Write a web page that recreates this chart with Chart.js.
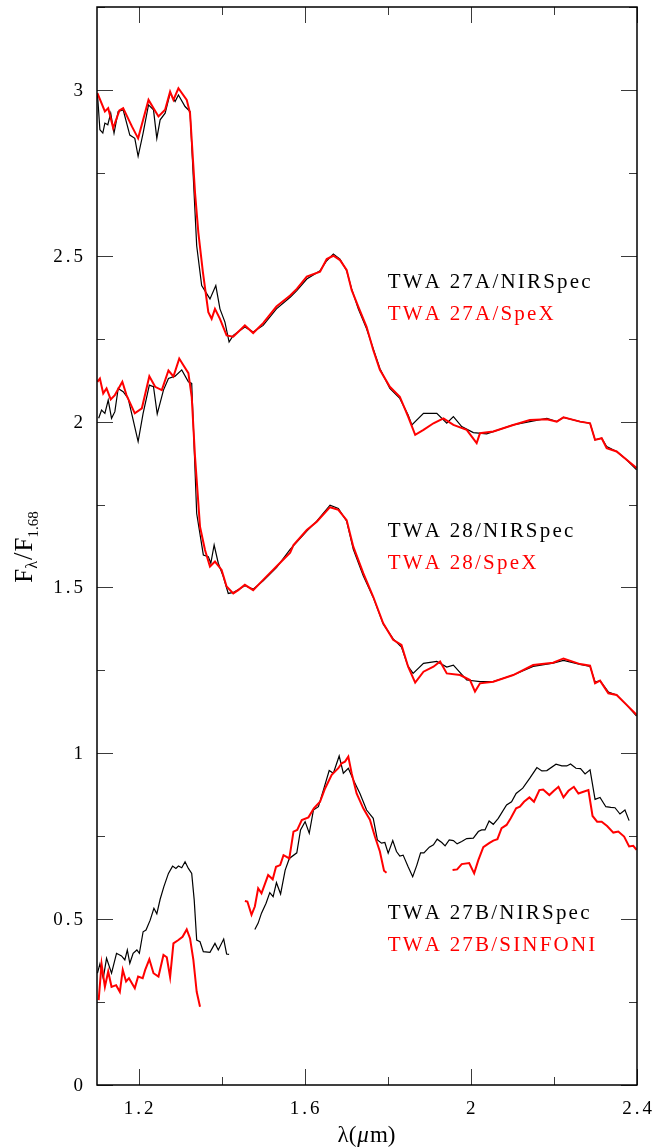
<!DOCTYPE html>
<html>
<head>
<meta charset="utf-8">
<script src="https://cdn.jsdelivr.net/npm/chart.js@4.4.0/dist/chart.umd.min.js"></script>
<style>
  html, body { margin: 0; padding: 0; background: #fff; }
  #wrap { width: 671px; height: 1148px; }
</style>
</head>
<body>
<div id="wrap"><canvas id="spectra"></canvas></div>
<script>
// wavelengths (micron) and normalised fluxes
// TWA 27A
const lam27aNirspec = [1.101,1.107,1.114,1.119,1.126,1.133,1.141,1.151,1.163,1.179,1.191,1.199,1.211,1.224,1.236,1.244,1.252,1.264,1.276,1.288,1.296,1.312,1.324,1.340,1.352,1.372,1.386,1.396,1.408,1.418,1.428,1.456,1.476,1.500,1.532,1.565,1.581,1.605,1.637,1.653,1.669,1.685,1.701,1.713,1.729,1.749,1.765,1.781,1.805,1.829,1.849,1.858,1.886,1.918,1.942,1.958,1.978,2.006,2.038,2.054,2.102,2.142,2.183,2.207,2.223,2.263,2.287,2.299,2.315,2.327,2.351,2.375,2.399];
const flux27aNirspec = [2.99,2.88,2.87,2.90,2.895,2.93,2.87,2.935,2.94,2.864,2.854,2.80,2.87,2.955,2.94,2.854,2.91,2.93,2.99,2.965,2.985,2.95,2.935,2.53,2.41,2.37,2.41,2.34,2.30,2.24,2.26,2.285,2.27,2.29,2.34,2.375,2.395,2.43,2.455,2.485,2.505,2.49,2.455,2.40,2.34,2.28,2.22,2.16,2.10,2.07,2.02,1.99,2.025,2.025,1.995,2.015,1.985,1.967,1.963,1.97,1.99,2.0,2.01,2.0,2.013,2.0,1.995,1.945,1.95,1.925,1.91,1.885,1.855];
const lam27aSpex = [1.101,1.119,1.127,1.139,1.154,1.163,1.184,1.199,1.224,1.248,1.264,1.276,1.284,1.296,1.316,1.324,1.336,1.344,1.355,1.368,1.376,1.384,1.396,1.412,1.428,1.456,1.476,1.500,1.532,1.565,1.581,1.605,1.637,1.653,1.669,1.685,1.701,1.713,1.729,1.749,1.765,1.781,1.805,1.829,1.849,1.866,1.886,1.910,1.934,1.958,1.990,2.014,2.022,2.054,2.102,2.142,2.183,2.207,2.223,2.263,2.287,2.299,2.315,2.327,2.351,2.375,2.399];
const flux27aSpex = [2.99,2.935,2.945,2.885,2.938,2.945,2.89,2.854,2.97,2.92,2.94,2.995,2.97,3.005,2.97,2.93,2.69,2.57,2.45,2.33,2.31,2.34,2.31,2.26,2.256,2.29,2.267,2.297,2.347,2.38,2.40,2.437,2.452,2.49,2.50,2.487,2.457,2.397,2.347,2.286,2.216,2.156,2.105,2.075,2.015,1.96,1.975,1.995,2.01,1.99,1.975,1.935,1.965,1.97,1.99,2.005,2.007,2.0,2.013,2.0,1.995,1.945,1.95,1.92,1.91,1.885,1.86];

// TWA 28
const lam28Nirspec = [1.104,1.111,1.119,1.127,1.135,1.143,1.151,1.163,1.175,1.187,1.199,1.211,1.226,1.236,1.245,1.260,1.272,1.288,1.304,1.320,1.328,1.340,1.356,1.368,1.374,1.382,1.392,1.404,1.416,1.428,1.456,1.476,1.500,1.532,1.565,1.605,1.629,1.661,1.681,1.701,1.717,1.741,1.765,1.789,1.813,1.833,1.849,1.861,1.886,1.918,1.942,1.958,1.990,2.022,2.054,2.102,2.150,2.198,2.223,2.263,2.287,2.299,2.311,2.331,2.351,2.375,2.399];
const flux28Nirspec = [2.01,2.035,2.025,2.065,2.01,2.03,2.10,2.09,2.07,2.005,1.94,2.025,2.11,2.105,2.023,2.095,2.13,2.137,2.156,2.12,2.115,1.723,1.598,1.593,1.573,1.628,1.573,1.533,1.482,1.485,1.505,1.495,1.52,1.56,1.615,1.67,1.70,1.748,1.738,1.70,1.615,1.535,1.47,1.39,1.345,1.32,1.262,1.241,1.271,1.277,1.26,1.266,1.221,1.216,1.216,1.236,1.262,1.272,1.28,1.268,1.262,1.215,1.219,1.185,1.176,1.146,1.112];
const lam28Spex = [1.101,1.107,1.115,1.123,1.133,1.143,1.161,1.171,1.191,1.208,1.226,1.240,1.256,1.272,1.284,1.298,1.308,1.320,1.328,1.336,1.348,1.360,1.372,1.384,1.400,1.412,1.428,1.440,1.456,1.476,1.500,1.532,1.565,1.573,1.605,1.629,1.661,1.681,1.701,1.717,1.741,1.765,1.789,1.813,1.833,1.849,1.866,1.886,1.910,1.926,1.942,1.974,1.998,2.010,2.022,2.054,2.102,2.150,2.198,2.223,2.263,2.287,2.299,2.311,2.331,2.351,2.375,2.399];
const flux28Spex = [2.12,2.13,2.085,2.10,2.067,2.08,2.12,2.08,2.025,2.04,2.137,2.105,2.095,2.154,2.136,2.19,2.17,2.146,2.075,1.894,1.683,1.613,1.563,1.578,1.553,1.503,1.482,1.492,1.508,1.492,1.523,1.563,1.605,1.628,1.673,1.698,1.742,1.734,1.703,1.623,1.543,1.472,1.392,1.342,1.327,1.261,1.213,1.246,1.261,1.277,1.241,1.236,1.221,1.186,1.211,1.216,1.236,1.266,1.273,1.286,1.269,1.264,1.211,1.219,1.181,1.176,1.146,1.116];

// TWA 27B (null = no data, leaves a gap)
const lam27bNirspec = [1.101,1.107,1.115,1.123,1.135,1.147,1.159,1.167,1.173,1.179,1.187,1.196,1.202,1.211,1.218,1.228,1.237,1.244,1.252,1.261,1.272,1.282,1.290,1.296,1.304,1.312,1.320,1.328,1.334,1.340,1.348,1.356,1.372,1.384,1.392,1.405,1.412,1.418,1.45,1.480,1.488,1.496,1.507,1.516,1.524,1.532,1.542,1.553,1.563,1.581,1.590,1.601,1.611,1.621,1.633,1.645,1.659,1.669,1.683,1.693,1.705,1.717,1.733,1.749,1.765,1.775,1.785,1.793,1.801,1.812,1.821,1.829,1.837,1.849,1.860,1.870,1.879,1.887,1.900,1.910,1.919,1.930,1.938,1.948,1.958,1.967,1.978,1.990,2.006,2.018,2.026,2.034,2.044,2.054,2.066,2.086,2.098,2.109,2.125,2.142,2.159,2.171,2.183,2.205,2.219,2.231,2.240,2.253,2.264,2.275,2.287,2.299,2.311,2.325,2.337,2.347,2.359,2.371,2.381];
const flux27bNirspec = [0.337,0.365,0.322,0.382,0.337,0.397,0.389,0.377,0.407,0.367,0.397,0.407,0.397,0.462,0.467,0.497,0.533,0.516,0.56,0.598,0.638,0.66,0.653,0.66,0.655,0.673,0.653,0.638,0.558,0.437,0.432,0.402,0.400,0.427,0.407,0.44,0.395,0.394,null,0.469,0.488,0.518,0.548,0.58,0.568,0.61,0.576,0.648,0.683,0.70,0.769,0.794,0.759,0.829,0.839,0.889,0.948,0.94,0.992,0.94,0.955,0.92,0.879,0.829,0.804,0.739,0.729,0.731,0.699,0.737,0.704,0.69,0.693,0.658,0.628,0.663,0.70,0.70,0.717,0.724,0.741,0.731,0.721,0.739,0.737,0.727,0.734,0.743,0.744,0.764,0.769,0.769,0.796,0.786,0.804,0.844,0.854,0.879,0.895,0.925,0.957,0.947,0.948,0.967,0.962,0.962,0.968,0.955,0.954,0.938,0.95,0.861,0.867,0.839,0.837,0.836,0.817,0.829,0.797];
const lam27bSinfoni = [1.104,1.111,1.119,1.127,1.135,1.146,1.155,1.162,1.170,1.177,1.191,1.199,1.210,1.216,1.226,1.236,1.248,1.260,1.268,1.276,1.284,1.296,1.306,1.316,1.324,1.332,1.340,1.348,1.40,1.456,1.462,1.472,1.480,1.488,1.496,1.512,1.523,1.531,1.541,1.549,1.563,1.573,1.582,1.593,1.609,1.622,1.637,1.649,1.665,1.681,1.689,1.697,1.705,1.713,1.725,1.741,1.757,1.769,1.781,1.791,1.797,1.88,1.956,1.967,1.978,1.996,2.008,2.018,2.030,2.044,2.054,2.064,2.074,2.086,2.096,2.109,2.118,2.128,2.141,2.152,2.165,2.174,2.189,2.200,2.211,2.223,2.235,2.248,2.259,2.271,2.283,2.293,2.304,2.315,2.328,2.343,2.355,2.369,2.381,2.391,2.399];
const flux27bSinfoni = [0.256,0.365,0.296,0.342,0.296,0.301,0.281,0.347,0.312,0.322,0.292,0.327,0.322,0.347,0.379,0.337,0.327,0.392,0.385,0.325,0.427,0.437,0.447,0.469,0.442,0.377,0.281,0.236,null,0.555,0.553,0.513,0.538,0.593,0.578,0.633,0.620,0.658,0.663,0.693,0.683,0.764,0.769,0.799,0.807,0.834,0.854,0.894,0.935,0.955,0.97,0.975,0.99,0.94,0.879,0.834,0.80,0.749,0.704,0.646,0.64,null,0.648,0.650,0.666,0.669,0.638,0.678,0.717,0.729,0.737,0.741,0.774,0.784,0.804,0.834,0.839,0.854,0.867,0.854,0.889,0.891,0.874,0.887,0.899,0.867,0.887,0.899,0.879,0.884,0.889,0.811,0.794,0.794,0.781,0.761,0.764,0.749,0.719,0.721,0.709];

const xTicks = [1.2, 1.6, 2.0, 2.4];
const xMinorTicks = [1.4, 1.8, 2.2];
const yTicks = [0, 0.5, 1, 1.5, 2, 2.5, 3];
const yMinorTicks = [0.25, 0.75, 1.25, 1.75, 2.25, 2.75, 3.25];

const labelNames = ['TWA 27A/NIRSpec', 'TWA 27A/SpeX', 'TWA 28/NIRSpec', 'TWA 28/SpeX', 'TWA 27B/NIRSpec', 'TWA 27B/SINFONI'];
const labelColors = ['#000000', '#ff0000', '#000000', '#ff0000', '#000000', '#ff0000'];
const labelY = [2.418, 2.322, 1.670, 1.571, 0.516, 0.422];
const labelLam = 1.80;

const SERIF = "'Liberation Serif', 'DejaVu Serif', serif";

function toPoints(lam, flux) {
    return lam.map((l, i) => ({ x: l, y: flux[i] }));
}

function spectrum(lam, flux, color, width, order) {
    return {
        data: toPoints(lam, flux),
        borderColor: color,
        borderWidth: width,
        pointRadius: 0,
        tension: 0,
        spanGaps: false,
        fill: false,
        order: order
    };
}

// draw text with extra spacing between glyphs; align = 'left' | 'center' | 'right'
function spacedText(ctx, text, x, y, spacing, align) {
    let w = 0;
    const widths = [...text].map(ch => ctx.measureText(ch).width);
    widths.forEach(cw => { w += cw; });
    w += spacing * (widths.length - 1);
    let cx = align === 'right' ? x - w : align === 'center' ? x - w / 2 : x;
    [...text].forEach((ch, i) => {
        ctx.fillText(ch, cx, y);
        cx += widths[i] + spacing;
    });
}

// frame, inward ticks on all four sides, tick labels, text labels and titles
const framePlugin = {
    id: 'frame',
    afterDraw(chart) {
        const ctx = chart.ctx;
        const area = chart.chartArea;
        const xs = chart.scales.x;
        const ys = chart.scales.y;
        ctx.save();

        ctx.strokeStyle = '#3a3a3a';
        ctx.lineWidth = 1;
        const tick = (x1, y1, x2, y2) => {
            ctx.beginPath();
            ctx.moveTo(x1, y1);
            ctx.lineTo(x2, y2);
            ctx.stroke();
        };
        yTicks.concat(yMinorTicks).forEach(v => {
            const len = yTicks.includes(v) ? 16 : 8;
            const py = Math.round(ys.getPixelForValue(v)) + 0.5;
            tick(area.left, py, area.left + len, py);
            tick(area.right, py, area.right - len, py);
        });
        xTicks.concat(xMinorTicks).forEach(v => {
            const len = xTicks.includes(v) ? 16 : 8;
            const px = Math.round(xs.getPixelForValue(v)) + 0.5;
            tick(px, area.bottom, px, area.bottom - len);
            tick(px, area.top, px, area.top + len);
        });

        ctx.strokeStyle = '#000';
        ctx.lineWidth = 1.5;
        ctx.strokeRect(area.left, area.top, area.right - area.left, area.bottom - area.top);

        // tick labels
        ctx.fillStyle = '#000';
        ctx.font = '19px ' + SERIF;
        ctx.textAlign = 'left';
        ctx.textBaseline = 'middle';
        yTicks.forEach(v => {
            spacedText(ctx, String(v), area.left - 14, ys.getPixelForValue(v) + 1, 3, 'right');
        });
        xTicks.forEach(v => {
            spacedText(ctx, String(v), xs.getPixelForValue(v), area.bottom + 24, 3, 'center');
        });

        // x title: lambda(mu m)
        ctx.font = '23px ' + SERIF;
        const xt = [
            { t: 'λ(', italic: false },
            { t: 'μ', italic: true },
            { t: 'm)', italic: false }
        ];
        let tw = 0;
        xt.forEach(p => {
            ctx.font = (p.italic ? 'italic ' : '') + '23px ' + SERIF;
            p.w = ctx.measureText(p.t).width + 1;
            tw += p.w;
        });
        let tx = (area.left + area.right) / 2 - tw / 2;
        xt.forEach(p => {
            ctx.font = (p.italic ? 'italic ' : '') + '23px ' + SERIF;
            ctx.fillText(p.t, tx, 1136);
            tx += p.w;
        });

        // spectrum names
        ctx.font = '21px ' + SERIF;
        labelNames.forEach((name, i) => {
            ctx.fillStyle = labelColors[i];
            spacedText(ctx, name, xs.getPixelForValue(labelLam), ys.getPixelForValue(labelY[i]), 2.2, 'left');
        });

        // y title: F_lambda / F_1.68
        ctx.translate(32, 547);
        ctx.rotate(-Math.PI / 2);
        ctx.fillStyle = '#000';
        ctx.textBaseline = 'alphabetic';
        const parts = [
            { t: 'F', size: 25, dy: 0, gap: 0 },
            { t: 'λ', size: 16, dy: 5, gap: 1 },
            { t: '/', size: 27, dy: 0, gap: 1 },
            { t: 'F', size: 25, dy: 0, gap: 0 },
            { t: '1.68', size: 15, dy: 6, gap: 0 }
        ];
        let total = 0;
        parts.forEach(p => {
            ctx.font = p.size + 'px ' + SERIF;
            p.w = ctx.measureText(p.t).width + p.gap;
            total += p.w;
        });
        let cx = -total / 2;
        parts.forEach(p => {
            ctx.font = p.size + 'px ' + SERIF;
            ctx.fillText(p.t, cx, p.dy);
            cx += p.w;
        });
        ctx.restore();
    }
};

const ctx = document.getElementById('spectra').getContext('2d');
new Chart(ctx, {
    type: 'line',
    data: {
        datasets: [
            spectrum(lam27aSpex, flux27aSpex, '#ff0000', 2, 1),
            spectrum(lam27aNirspec, flux27aNirspec, '#000000', 1.2, 2),
            spectrum(lam28Spex, flux28Spex, '#ff0000', 2, 1),
            spectrum(lam28Nirspec, flux28Nirspec, '#000000', 1.2, 2),
            spectrum(lam27bSinfoni, flux27bSinfoni, '#ff0000', 2, 1),
            spectrum(lam27bNirspec, flux27bNirspec, '#000000', 1.2, 2)
        ]
    },
    options: {
        responsive: true,
        maintainAspectRatio: false,
        animation: false,
        events: [],
        layout: { padding: { top: 7, right: 34, left: 0, bottom: 0 } },
        plugins: {
            legend: { display: false },
            tooltip: { enabled: false }
        },
        scales: {
            x: {
                type: 'linear',
                min: 1.1,
                max: 2.4,
                afterFit: (scale) => {
                    scale.height = 63;
                    scale.paddingLeft = 0;
                    scale.paddingRight = 0;
                },
                afterBuildTicks: (scale) => { scale.ticks = xTicks.map(v => ({ value: v })); },
                grid: { display: false, drawTicks: false },
                border: { display: false },
                ticks: { display: false }
            },
            y: {
                type: 'linear',
                min: 0,
                max: 3.25,
                afterFit: (scale) => {
                    scale.width = 97;
                    scale.paddingTop = 0;
                    scale.paddingBottom = 0;
                },
                afterBuildTicks: (scale) => { scale.ticks = yTicks.map(v => ({ value: v })); },
                grid: { display: false, drawTicks: false },
                border: { display: false },
                ticks: { display: false }
            }
        }
    },
    plugins: [framePlugin]
});
</script>
</body>
</html>
